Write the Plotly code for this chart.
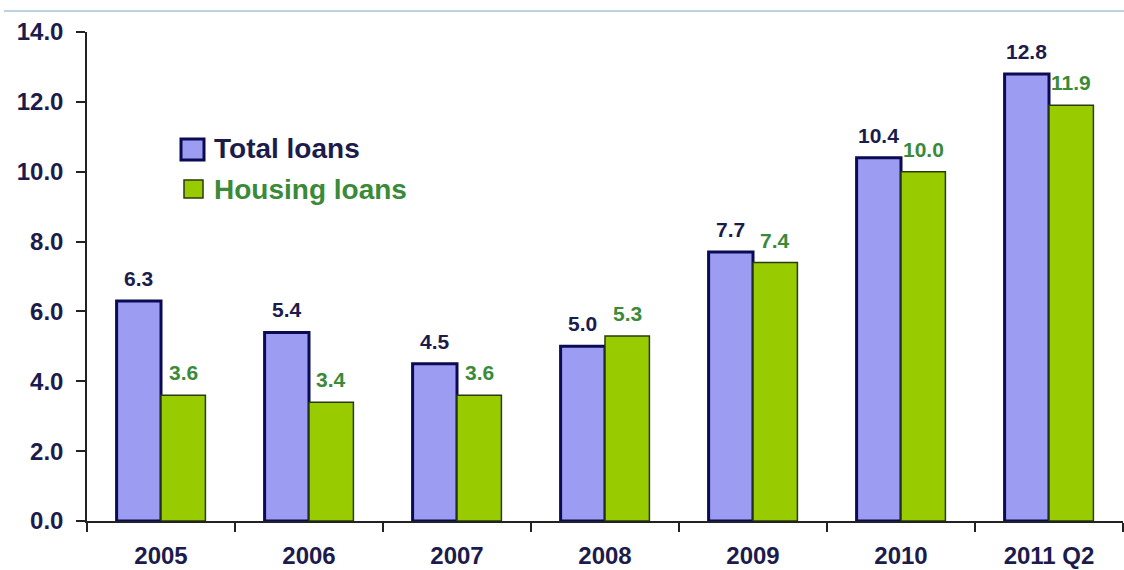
import plotly.graph_objects as go

categories = ["2005", "2006", "2007", "2008", "2009", "2010", "2011 Q2"]
total_loans = [6.3, 5.4, 4.5, 5.0, 7.7, 10.4, 12.8]
housing_loans = [3.6, 3.4, 3.6, 5.3, 7.4, 10.0, 11.9]
y_ticks = [0, 2, 4, 6, 8, 10, 12, 14]
series_names = ["Total loans", "Housing loans"]

NAVY = "#1c1c4c"
GREEN = "#3a8a3a"
TOTAL_FILL = "#9b9cf2"
TOTAL_EDGE = "#0a0a55"
HOUSING_FILL = "#99cc00"
HOUSING_EDGE = "#2a3a10"
FONT = "Liberation Sans, Arial, sans-serif"

W, H = 1124, 570
ML, MR, MT, MB = 87, 1, 32, 49
PW, PH = W - ML - MR, H - MT - MB

def px(x):
    return (x - ML) / PW

def py(y):
    return (H - MB - y) / PH

fig = go.Figure()
fig.add_trace(go.Bar(
    x=categories, y=total_loans, name=series_names[0],
    marker=dict(color=TOTAL_FILL, line=dict(color=TOTAL_EDGE, width=3)),
    showlegend=False,
))
fig.add_trace(go.Bar(
    x=categories, y=housing_loans, name=series_names[1],
    marker=dict(color=HOUSING_FILL, line=dict(color=HOUSING_EDGE, width=1.5)),
    showlegend=False,
))

bargap = 0.4
half_bar = PW / len(categories) * (1 - bargap) / 4

# value labels above each bar (x given as category index)
for i, v in enumerate(total_loans):
    fig.add_annotation(x=i, y=v, text=f"<b>{v:.1f}</b>", showarrow=False,
                       xshift=-half_bar, yshift=9, yanchor="bottom",
                       font=dict(size=21, color=NAVY, family=FONT))
for i, v in enumerate(housing_loans):
    fig.add_annotation(x=i, y=v, text=f"<b>{v:.1f}</b>", showarrow=False,
                       xshift=half_bar, yshift=9, yanchor="bottom",
                       font=dict(size=21, color=GREEN, family=FONT))

# legend drawn as swatches + labels
fig.add_shape(type="rect", xref="paper", yref="paper",
              x0=px(181), x1=px(204), y0=py(160), y1=py(139),
              fillcolor=TOTAL_FILL, line=dict(color=TOTAL_EDGE, width=3))
fig.add_shape(type="rect", xref="paper", yref="paper",
              x0=px(184), x1=px(203), y0=py(198), y1=py(180),
              fillcolor=HOUSING_FILL, line=dict(color=HOUSING_EDGE, width=1.5))
fig.add_annotation(xref="paper", yref="paper", x=px(212), y=py(149),
                   xanchor="left", yanchor="middle", showarrow=False,
                   text=f"<b>{series_names[0]}</b>",
                   font=dict(size=28, color=NAVY, family=FONT))
fig.add_annotation(xref="paper", yref="paper", x=px(212), y=py(189),
                   xanchor="left", yanchor="middle", showarrow=False,
                   text=f"<b>{series_names[1]}</b>",
                   font=dict(size=28, color=GREEN, family=FONT))

fig.update_layout(
    width=W, height=H,
    margin=dict(l=ML, r=MR, t=MT, b=MB),
    paper_bgcolor="white", plot_bgcolor="white",
    barmode="group", bargap=bargap, bargroupgap=0,
    font=dict(family=FONT, color=NAVY),
    showlegend=False,
)
fig.update_xaxes(
    type="category", categoryorder="array", categoryarray=categories,
    range=[-0.5, len(categories) - 0.5],
    showline=True, linecolor="#222", linewidth=1.5,
    ticks="outside", tickson="boundaries", ticklen=9, tickcolor="#222",
    tickwidth=1.5, tickangle=0,
    tickfont=dict(size=24, color=NAVY, family=FONT),
    tickprefix="<b>", ticksuffix="</b>", showgrid=False,
    ticklabelstandoff=12, automargin=False,
)
fig.update_yaxes(
    range=[0, 14], tickvals=y_ticks,
    ticktext=[f"<b>{v:.1f}</b>" for v in y_ticks],
    showline=True, linecolor="#222", linewidth=1.5,
    ticks="outside", ticklen=9, tickcolor="#222", tickwidth=1.5,
    tickfont=dict(size=24, color=NAVY, family=FONT),
    showgrid=False, zeroline=False,
    ticklabelstandoff=8, automargin=False,
)
# thin light-blue rule along the top of the canvas
fig.add_shape(type="line", xref="paper", yref="paper",
              x0=px(4), x1=px(W), y0=py(11), y1=py(11),
              line=dict(color="#a9c2d4", width=1.5))

fig.write_html("out.html")
